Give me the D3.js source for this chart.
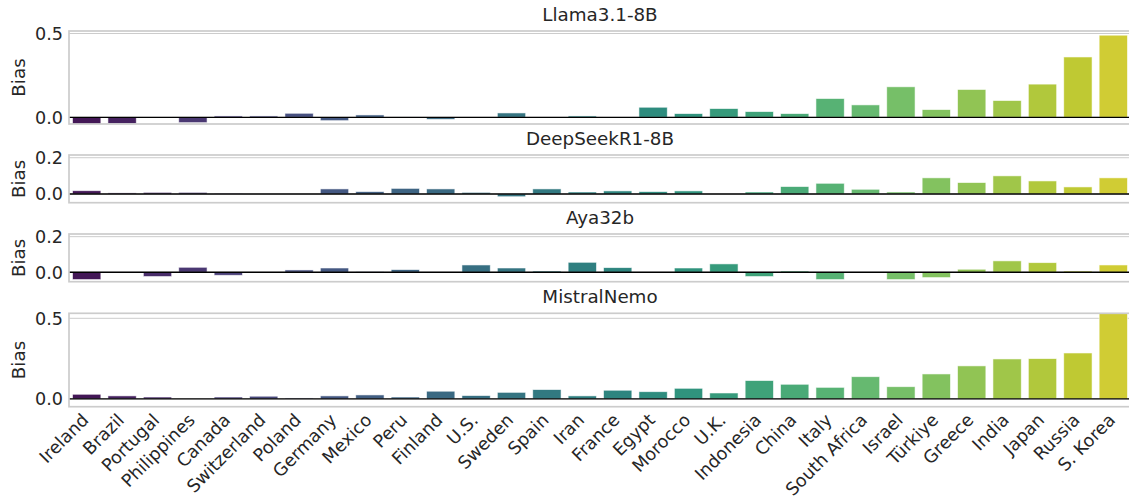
<!DOCTYPE html>
<html><head><meta charset="utf-8">
<script src="https://cdn.jsdelivr.net/npm/d3@7"></script>
<style>
body{margin:0;background:#fff;}
text{font-family:"DejaVu Sans",sans-serif;fill:#262626;}
</style>
</head><body>
<svg id="c" width="1129" height="503"></svg>
<script>
const countries = ["Ireland","Brazil","Portugal","Philippines","Canada","Switzerland","Poland","Germany","Mexico","Peru","Finland","U.S.","Sweden","Spain","Iran","France","Egypt","Morocco","U.K.","Indonesia","China","Italy","South Africa","Israel","Türkiye","Greece","India","Japan","Russia","S. Korea"];
const models = ["Llama3.1-8B","DeepSeekR1-8B","Aya32b","MistralNemo"];
const llama = [-0.040,-0.038,0.001,-0.032,0.008,0.008,0.024,-0.020,0.014,0.002,-0.012,-0.004,0.026,-0.003,0.008,0.001,0.060,0.022,0.052,0.034,0.022,0.112,0.074,0.182,0.046,0.166,0.100,0.198,0.360,0.490];
const deepseek = [0.018,0.006,0.009,0.009,0.004,0.0,0.0,0.028,0.013,0.031,0.028,0.009,-0.015,0.028,0.011,0.017,0.013,0.017,0.0,0.011,0.041,0.059,0.026,0.011,0.089,0.063,0.100,0.072,0.039,0.089];
const aya = [-0.041,-0.002,-0.024,0.028,-0.017,-0.002,0.013,0.024,0.003,0.015,0.0,0.041,0.024,0.007,0.056,0.026,0.0,0.024,0.047,-0.024,0.007,-0.041,0.0,-0.041,-0.030,0.017,0.064,0.054,0.007,0.041];
const mistral = [0.029,0.019,0.012,0.0,0.012,0.017,0.006,0.019,0.025,0.012,0.048,0.021,0.041,0.058,0.019,0.054,0.045,0.066,0.037,0.114,0.091,0.072,0.138,0.076,0.155,0.205,0.248,0.250,0.285,0.531];
const yTicks = [[0,0.5],[0,0.2],[0,0.2],[0,0.5]];
const yDomains = [[-0.040,0.515],[-0.048,0.215],[-0.053,0.215],[-0.048,0.531]];
const yLabel = "Bias";

const series = [llama, deepseek, aya, mistral];
const panelTop = [31,155,234,313.3];
const panelBottom = [124,202.7,281.7,406.7];
const left = 69, right = 1131;

const svg = d3.select("#c");
const x = d3.scaleBand().domain(countries).range([left,right]).paddingInner(0.2).paddingOuter(0.1);
const color = countries.map((d,i)=>{const c=d3.hsl(d3.interpolateViridis((i+1)/(countries.length+1))); c.s*=0.75; return c.formatHex();});

series.forEach((vals,p)=>{
  const y = d3.scaleLinear().domain(yDomains[p]).range([panelBottom[p],panelTop[p]]);
  const g = svg.append("g");
  const cid = "clip"+p;
  svg.append("clipPath").attr("id",cid).append("rect")
    .attr("x",left).attr("y",panelTop[p]).attr("width",right-left).attr("height",panelBottom[p]-panelTop[p]);
  g.selectAll(".grid").data(yTicks[p]).enter().append("line")
    .attr("x1",left).attr("x2",right).attr("y1",d=>y(d)).attr("y2",d=>y(d))
    .attr("stroke","#cccccc").attr("stroke-width",1);
  g.append("g").attr("clip-path",`url(#${cid})`).selectAll("rect").data(vals).enter().append("rect")
    .attr("x",(d,i)=>x(countries[i]))
    .attr("width",x.bandwidth())
    .attr("y",d=>y(Math.max(0,d)))
    .attr("height",d=>Math.abs(y(d)-y(0)))
    .attr("fill",(d,i)=>color[i])
    .attr("stroke","#ffffff").attr("stroke-opacity",0.7).attr("stroke-width",0.8);
  g.append("line").attr("x1",left).attr("x2",right).attr("y1",y(0)).attr("y2",y(0))
    .attr("stroke","#000").attr("stroke-width",1.3);
  g.append("rect").attr("x",left).attr("y",panelTop[p]).attr("width",right-left)
    .attr("height",panelBottom[p]-panelTop[p]).attr("fill","none")
    .attr("stroke","#cccccc").attr("stroke-width",1.7);
  const fmt = d3.format(".1f");
  g.selectAll(".yt").data(yTicks[p]).enter().append("text")
    .attr("x",left-6).attr("y",d=>y(d)).attr("dy","0.36em")
    .attr("text-anchor","end").style("font-size","17.6px").text(d=>fmt(d));
  g.append("text").attr("transform",`translate(25,${(panelTop[p]+panelBottom[p])/2}) rotate(-90)`)
    .attr("text-anchor","middle").style("font-size","18.3px").text(yLabel);
  g.append("text").attr("x",(left+right)/2).attr("y",panelTop[p]-10.3)
    .attr("text-anchor","middle").style("font-size","18.3px").text(models[p]);
  if(p===series.length-1){
    g.selectAll(".xl").data(countries).enter().append("text")
      .attr("transform",d=>`translate(${x(d)+x.bandwidth()/2+3},${panelBottom[p]+14.5}) rotate(-45)`)
      .attr("text-anchor","end").style("font-size","17.6px").text(d=>d);
  }
});
</script>
</body></html>
